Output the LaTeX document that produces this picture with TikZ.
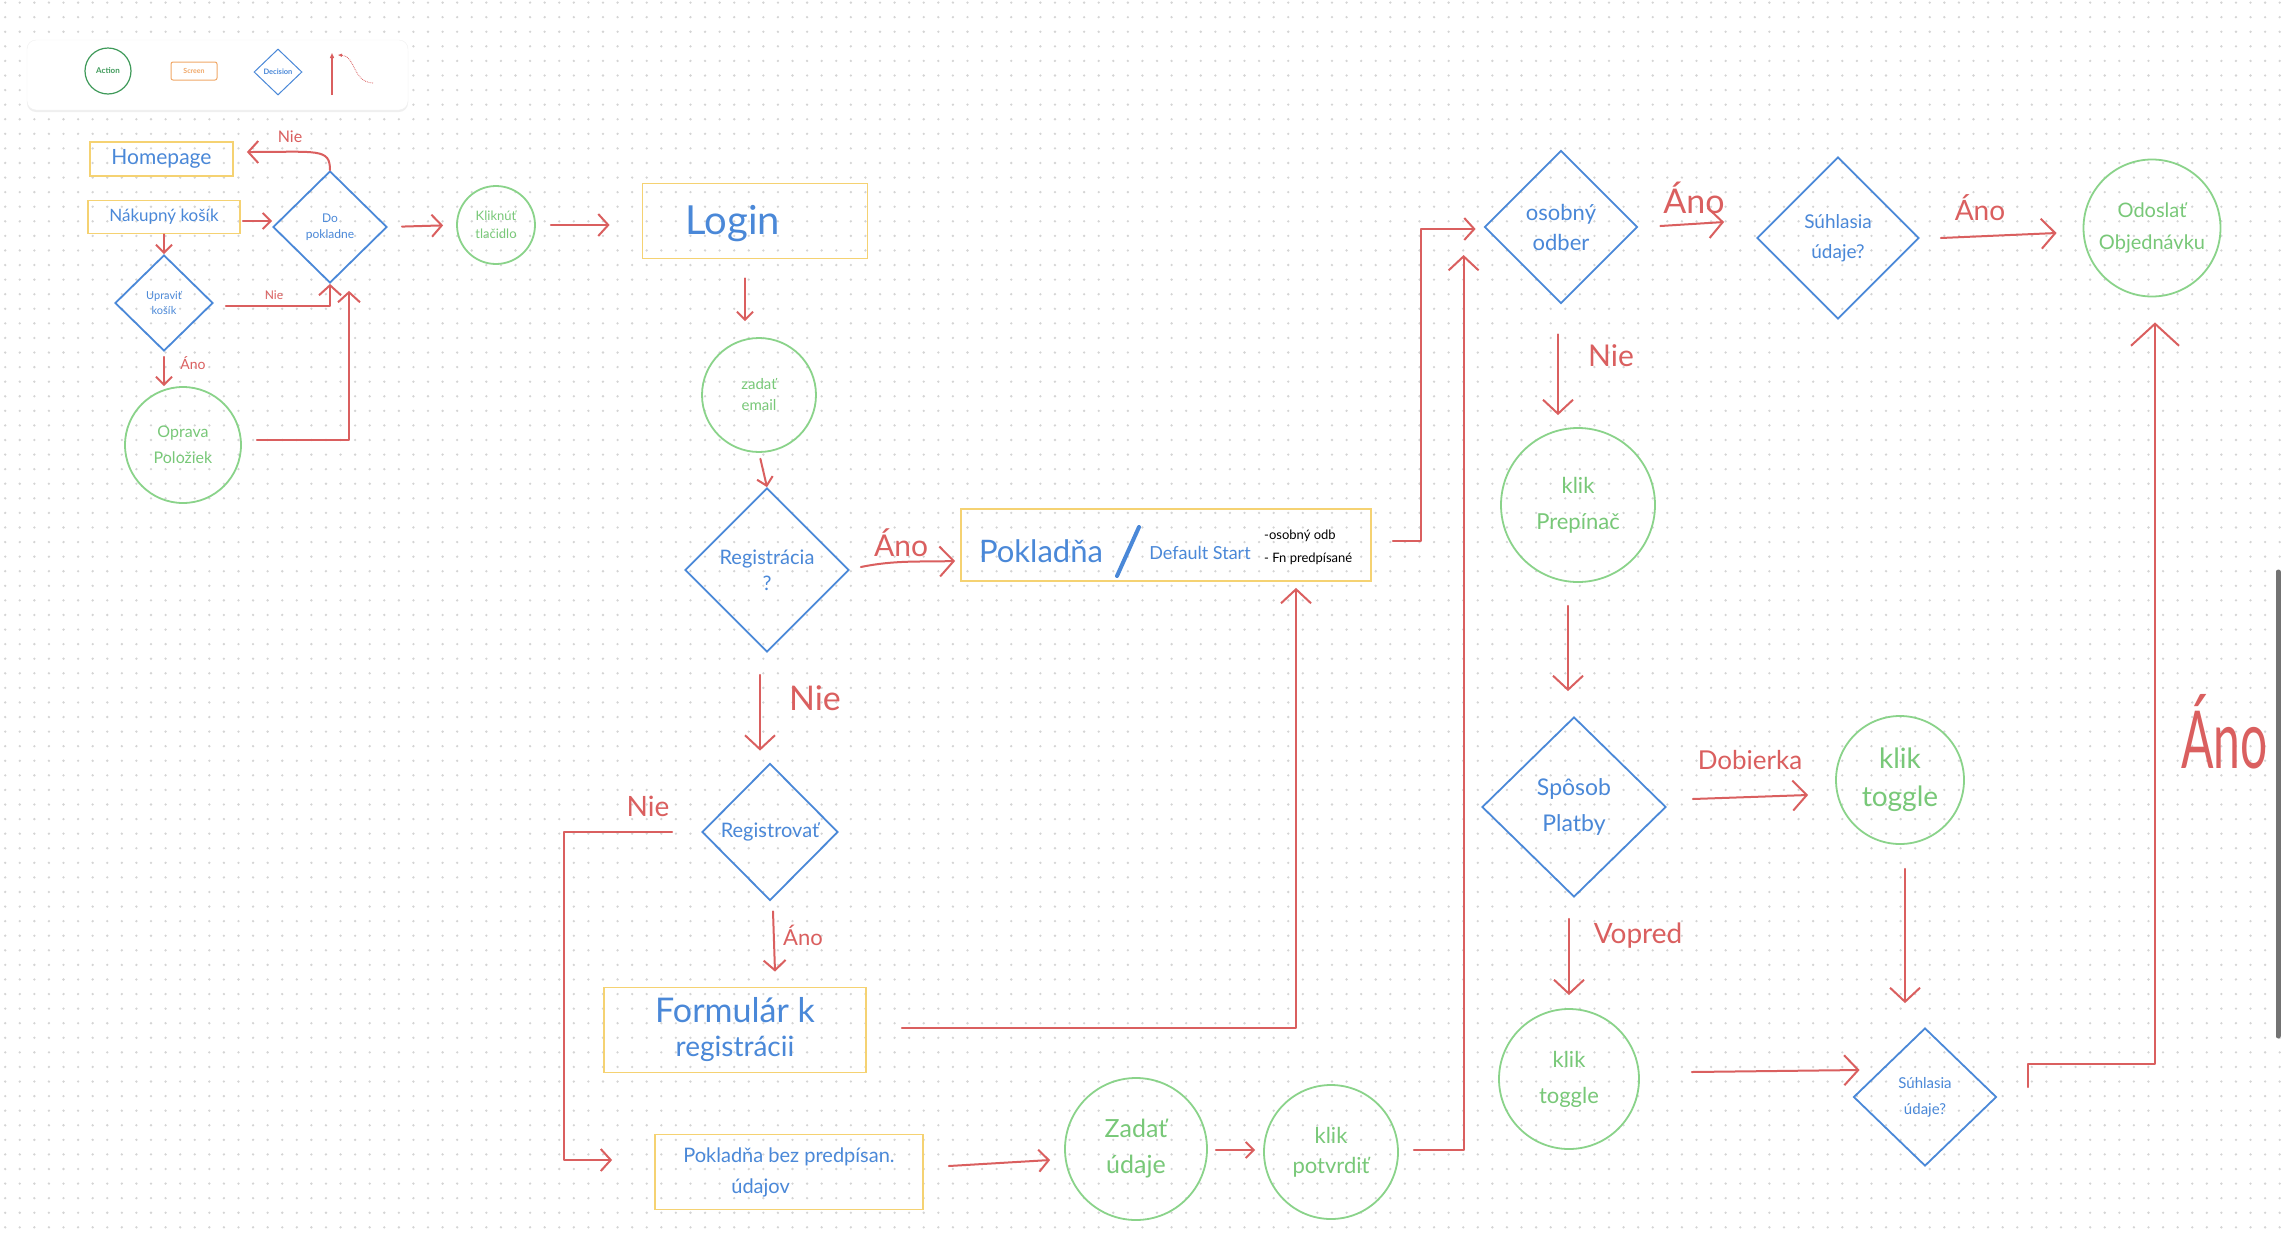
\documentclass[tikz,border=0pt]{standalone}
\usepackage{fontspec}
\usepackage{graphicx}
\setmainfont{Lato}
\usetikzlibrary{arrows.meta,shapes.geometric,calc,shadows}
\definecolor{hblue}{HTML}{4A88D8}
\definecolor{hgreen}{HTML}{8AD38A}
\definecolor{hgtext}{HTML}{78C878}
\definecolor{hyellow}{HTML}{F5D272}
\definecolor{hred}{HTML}{DA5F5F}
\definecolor{dotgray}{HTML}{D4D4D4}
\definecolor{lgreen}{HTML}{3F9A5A}
\definecolor{lorange}{HTML}{F0A868}
\newcommand\hsz[2]{\fontsize{#1}{#2}\selectfont}
\begin{document}
\begin{tikzpicture}[x=1pt,y=-1pt,
  every node/.style={inner sep=0pt},
  dotrow/.style={draw=dotgray, line width=2.6pt, line cap=round, dash pattern=on 0pt off 14.58pt},
  screen/.style={draw=hyellow, line width=1.8pt, text=hblue, align=center},
  decision/.style={diamond, draw=hblue, line width=1.8pt, text=hblue, align=center},
  action/.style={circle, draw=hgreen, line width=1.8pt, text=hgtext, align=center},
  conn/.style={draw=hred, line width=2pt, line cap=round, line join=round},
  arrS/.style={conn, -{Straight Barb[length=8pt,width=16pt]}},
  arr/.style={conn, -{Straight Barb[length=10pt,width=22pt]}},
  arrL/.style={conn, -{Straight Barb[length=14pt,width=30pt]}},
  arrXL/.style={conn, -{Straight Barb[length=22pt,width=48pt]}},
  lab/.style={text=hred}
]
\useasboundingbox (0,0) rectangle (2287,1232);
\fill[white] (0,0) rectangle (2287,1232);
\foreach \j in {0,...,84} {
  \draw[dotrow] (5.2,{2.6+14.58*\j}) -- (2287,{2.6+14.58*\j});
}

% ---------- legend ----------
\node[fill=white, draw=black!6, rounded corners=9pt, minimum width=381pt, minimum height=70pt,
      drop shadow={opacity=0.12, shadow xshift=0pt, shadow yshift=-2pt}] (legend) at (217.5,75) {};
\node[circle, draw=lgreen, line width=1.2pt, minimum size=46pt, text=lgreen, font=\hsz{8}{10}\bfseries] (lgA) at (108,71) {Action};
\node[draw=lorange, rounded corners=2pt, line width=1pt, minimum width=46pt, minimum height=18pt, text=lorange, font=\hsz{7}{9}\bfseries] (lgS) at (194,71) {Screen};
\node[diamond, draw=hblue, line width=1pt, minimum width=48pt, minimum height=46pt] (lgD) at (278,72) {};
\node[text=hblue, font=\hsz{7.5}{9}\bfseries] (lgDt) at (278,72) {Decision};
\coordinate (lgA1) at (332,95);
\coordinate (lgA2) at (332,53);
\draw[hred, line width=1.3pt, -{Triangle[length=5pt,width=4pt]}] (lgA1) -- (lgA2);
\coordinate (lgB1) at (373,83);
\coordinate (lgB2) at (338,55);
\draw[hred, line width=0.8pt, densely dotted, -{Triangle[length=4pt,width=3pt]}] (lgB1) .. controls (352,82) and (356,56) .. (lgB2);

% ---------- nodes: left cluster ----------
\node[screen, minimum width=143pt, minimum height=34pt, font=\hsz{21}{25}] (home) at (161.5,159) {Homepage};
\node[screen, minimum width=152pt, minimum height=33pt, font=\hsz{17}{20}] (cart) at (164,217) {Nákupný košík};
\node[decision, minimum width=114pt, minimum height=112pt, font=\hsz{12}{16}] (dopokl) at (330,227) {Do\\pokladne};
\node[decision, minimum width=98pt, minimum height=96pt, font=\hsz{11}{15}] (upravit) at (164,303) {Upraviť\\košík};
\node[action, minimum size=116pt, font=\hsz{16}{26}] (oprava) at (183,445) {Oprava\\Položiek};
\node[action, minimum size=78pt, font=\hsz{13}{18}] (kliktl) at (496,225) {Kliknúť\\tlačidlo};

% ---------- nodes: middle ----------
\node[screen, minimum width=225pt, minimum height=75pt] (login) at (755,221) {};
\node[text=hblue, font=\hsz{40}{44}] (loginT) at (733,224) {Login};
\node[action, minimum size=114pt, font=\hsz{15}{21}] (email) at (759,395) {zadať\\email};
\node[decision, minimum width=164pt, minimum height=164pt, font=\hsz{20}{26}] (reg) at (767,570) {Registrácia\\?};
\node[screen, minimum width=410pt, minimum height=72pt] (pokl) at (1166,545) {};
\node[text=hblue, font=\hsz{31}{34}] (poklT) at (1041,551) {Pokladňa};
\coordinate (slashA) at (1117,576);
\coordinate (slashB) at (1139,527);
\draw[hblue, line width=4pt, line cap=round] (slashA) -- (slashB);
\node[text=hblue, font=\hsz{18}{20}] (poklD) at (1200,553) {Default Start};
\node[anchor=west, font=\hsz{13}{15}] (poklN1) at (1264,536) {-osobný odb};
\node[anchor=west, font=\hsz{13}{15}] (poklN2) at (1264,559) {- Fn predpísané};
\node[decision, minimum width=136pt, minimum height=137pt, font=\hsz{20}{22}] (regovat) at (770,832) {Registrovať};
\node[screen, minimum width=262pt, minimum height=85pt, font=\hsz{34}{34}] (form) at (735,1030) {Formulár k\\\hsz{28}{28}registrácii};
\node[screen, minimum width=268pt, minimum height=75pt, align=left, font=\hsz{20}{31}] (poklbez) at (789,1172) {Pokladňa bez predpísan.\\\hspace*{48pt}údajov};
\node[action, minimum size=142pt, font=\hsz{25}{36}] (udaje) at (1136,1149) {Zadať\\údaje};
\node[action, minimum size=134pt, font=\hsz{22}{30}] (potvrdit) at (1331,1152) {klik\\potvrdiť};

% ---------- nodes: right ----------
\node[decision, minimum width=153pt, minimum height=153pt, font=\hsz{22}{30}] (osobny) at (1561,227) {osobný\\odber};
\node[decision, minimum width=162pt, minimum height=162pt, font=\hsz{19}{30}] (suhl1) at (1838,238) {Súhlasia\\údaje?};
\node[action, minimum size=137pt, font=\hsz{20}{32}] (odoslat) at (2152,228) {Odoslať\\Objednávku};
\node[action, minimum size=154pt, font=\hsz{22}{36}] (prepinac) at (1578,505) {klik\\Prepínač};
\node[decision, minimum width=184pt, minimum height=180pt, font=\hsz{23}{36}] (sposob) at (1574,807) {Spôsob\\Platby};
\node[action, minimum size=128pt, font=\hsz{28}{38}] (toggle1) at (1900,780) {klik\\toggle};
\node[action, minimum size=140pt, font=\hsz{22}{36}] (toggle2) at (1569,1079) {klik\\toggle};
\node[decision, minimum width=143pt, minimum height=138pt, font=\hsz{15}{26}] (suhl2) at (1925,1097) {Súhlasia\\údaje?};

% ---------- connectors: left cluster ----------
\coordinate (homeIn) at ($(home.east)+(13,-7)$);
\draw[arr] (dopokl.north) .. controls (330,148) and (318,152) .. (homeIn);
\node[lab, font=\hsz{16}{18}] (nie1) at (290,137) {Nie};
\draw[arrS] ($(cart.east)+(2,4)$) -- ($(dopokl.west)+(0,-6)$);
\draw[arrS] (cart.south) -- (upravit.north);
\draw[arr] ($(upravit.east)+(12,3)$) -| (dopokl.south);
\node[lab, font=\hsz{12}{14}] (nie2) at (274,295) {Nie};
\draw[arrS] ($(upravit.south)+(0,5)$) -- (upravit.south |- oprava.north);
\node[lab, font=\hsz{14}{16}] (ano1) at (193,363) {Áno};
\draw[arr] ($(oprava.east)+(15,-5)$) -| ($(dopokl.south)+(19,7)$);
\draw[arr, shorten <=14pt, shorten >=13pt] (dopokl.east) -- (kliktl.west);
\draw[arr, shorten <=15pt, shorten >=32pt] (kliktl.east) -- (kliktl.east -| login.west);

% ---------- connectors: middle ----------
\draw[arrS, shorten <=19pt, shorten >=16pt] ($(login.south)+(-10,0)$) -- ($(login.south |- email.north)+(-10,0)$);
\draw[arrS, shorten <=6pt] (email.south) -- (reg.north);
\draw[arrL] ($(reg.east)+(11,-3)$) .. controls (895,560) and (920,562) .. ($(pokl.west)+(-5,16)$);
\node[lab, font=\hsz{30}{32}] (ano2) at (901,543) {Áno};
\draw[arrL] ($(reg.south)+(-7,22)$) -- ($(regovat.north)+(-10,-12)$);
\node[lab, font=\hsz{34}{36}] (nie3) at (815,698) {Nie};
\draw[arr] ($(regovat.west)+(-29,0)$) -- ++(-108,0) |- ($(poklbez.west)+(-42,-12)$);
\node[lab, font=\hsz{28}{30}] (nie4) at (648,806) {Nie};
\draw[arr] ($(regovat.south)+(3,10)$) -- ($(form.north)+(40,-15)$);
\node[lab, font=\hsz{22}{24}] (ano3) at (803,935) {Áno};
\draw[arrL] ($(form.east)+(35,-2)$) -| ($(pokl.south)+(130,6)$);
\draw[arr] ($(poklbez.east)+(25,-6)$) -- ($(udaje.west)+(-14,11)$);
\draw[arrS] ($(udaje.east)+(8,1)$) -- ($(potvrdit.west)+(-8,-2)$);
\draw[arrL] ($(potvrdit.east)+(15,-2)$) -| ($(osobny.west)+(-20,28)$);
\draw[arr] ($(pokl.east)+(21,-4)$) -- ++(28,0) |- ($(osobny.west)+(-8,2)$);

% ---------- connectors: right ----------
\draw[arrL] ($(osobny.east)+(22,-1)$) -- ($(suhl1.west)+(-32,-16)$);
\node[lab, font=\hsz{34}{36}] (ano4) at (1694,198) {Áno};
\draw[arrL] ($(suhl1.east)+(21,0)$) -- ($(odoslat.west)+(-26,5)$);
\node[lab, font=\hsz{28}{30}] (ano5) at (1980,208) {Áno};
\draw[arrL] ($(osobny.south)+(-3,30)$) -- ($(prepinac.north)+(-20,-12)$);
\node[lab, font=\hsz{30}{32}] (nie5) at (1611,356) {Nie};
\draw[arrL] ($(prepinac.south)+(-10,23)$) -- ($(sposob.north)+(-6,-25)$);
\draw[arrL] ($(sposob.east)+(26,-8)$) -- ($(toggle1.west)+(-27,15)$);
\node[lab, font=\hsz{26}{28}] (dob) at (1750,760) {Dobierka};
\draw[arrL] ($(sposob.south)+(-5,21)$) -- ($(toggle2.north)+(0,-13)$);
\node[lab, font=\hsz{28}{30}] (vop) at (1638,936) {Vopred};
\draw[arrL] ($(toggle1.south)+(5,24)$) -- ($(suhl2.north)+(-20,-24)$);
\draw[arrL] ($(toggle2.east)+(52,-7)$) -- ($(suhl2.west)+(7,-27)$);
\draw[arrXL] ($(suhl2.east)+(31,-10)$) -- ++(0,-23) -| ($(odoslat.south)+(3,25)$);
\node[lab, anchor=west, font=\hsz{80}{84}] (ano6) at (2181,732) {\scalebox{0.6}[1]{Áno}};

% scrollbar of the screenshot
\draw[line width=5pt, line cap=round, draw=black!55] (2278,572) -- (2278,1036);
\end{tikzpicture}
\end{document}
